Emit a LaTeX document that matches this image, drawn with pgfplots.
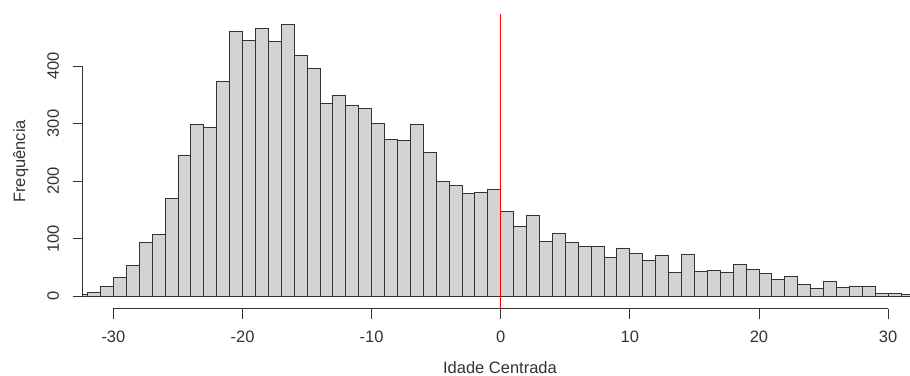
\documentclass[border=0pt]{standalone}
\usepackage{pgfplots}
\pgfplotsset{compat=1.18}
\usepackage{fontspec}
\setmainfont{Liberation Sans}
\definecolor{barfill}{HTML}{D3D3D3}
\definecolor{ink}{HTML}{333333}
\begin{document}%
\fontsize{16.5bp}{19bp}\selectfont%
\begin{tikzpicture}
\begin{axis}[
  at={(0,0)}, anchor=south west,
  scale only axis, width=827.3bp, height=294.7bp,
  xmin=-32.38, xmax=31.7, ymin=-21.5, ymax=490.3,
  axis x line*=bottom, axis y line*=left,
  axis line style={draw=none},
  xtick={-30,-20,-10,0,10,20,30}, xticklabels={-30,-20,-10,0,10,20,30},
  ytick={0,100,200,300,400}, yticklabels={0,100,200,300,400},
  minor tick num=0,
  tick align=outside, major tick length=10bp,
  tick style={ink, line width=0.8bp},
  xticklabel shift=12.5bp, yticklabel shift=13.5bp,
  xticklabel style={anchor=north, inner sep=0pt, text=ink},
  yticklabel style={rotate=90, anchor=south, inner sep=0pt, text=ink},
  xlabel={Idade Centrada}, ylabel={Frequência},
  xlabel style={at={(axis description cs:0.5044,-0.2197)}, anchor=base, inner sep=0pt, text=ink},
  ylabel style={at={(axis description cs:-0.0697,0.5)}, anchor=base, inner sep=0pt, text=ink},
]
\addplot[ybar interval, fill=barfill, draw=ink, line width=0.9bp, mark=none] coordinates {
(-33,4) (-32,7) (-31,17) (-30,33) (-29,54) (-28,94) (-27,108) (-26,170) (-25,244) (-24,298)
(-23,294) (-22,373) (-21,460) (-20,445) (-19,465) (-18,443) (-17,472) (-16,419) (-15,395) (-14,335)
(-13,348) (-12,331) (-11,326) (-10,300) (-9,272) (-8,270) (-7,298) (-6,249) (-5,199) (-4,192)
(-3,179) (-2,181) (-1,186) (0,148) (1,121) (2,141) (3,95) (4,109) (5,94) (6,86)
(7,86) (8,67) (9,84) (10,74) (11,63) (12,71) (13,42) (14,72) (15,43) (16,45)
(17,42) (18,56) (19,46) (20,39) (21,30) (22,35) (23,20) (24,14) (25,26) (26,16)
(27,18) (28,18) (29,5) (30,5) (31,4) (32,0)
};
\addplot[red, line width=0.8bp, mark=none] coordinates {(0,-21.5) (0,490.3)};
\coordinate (xa) at (axis cs:-30,-21.5);
\coordinate (xb) at (axis cs:30,-21.5);
\coordinate (ya) at (axis cs:-32.38,0);
\coordinate (yb) at (axis cs:-32.38,400);
\end{axis}
\draw[ink, line width=0.8bp] (xa) -- (xb);
\draw[ink, line width=0.8bp] (ya) -- (yb);
\pgfresetboundingbox
\path[use as bounding box] (-82.7bp,-67.3bp) rectangle (827.3bp,308.7bp);
\end{tikzpicture}%
\end{document}
